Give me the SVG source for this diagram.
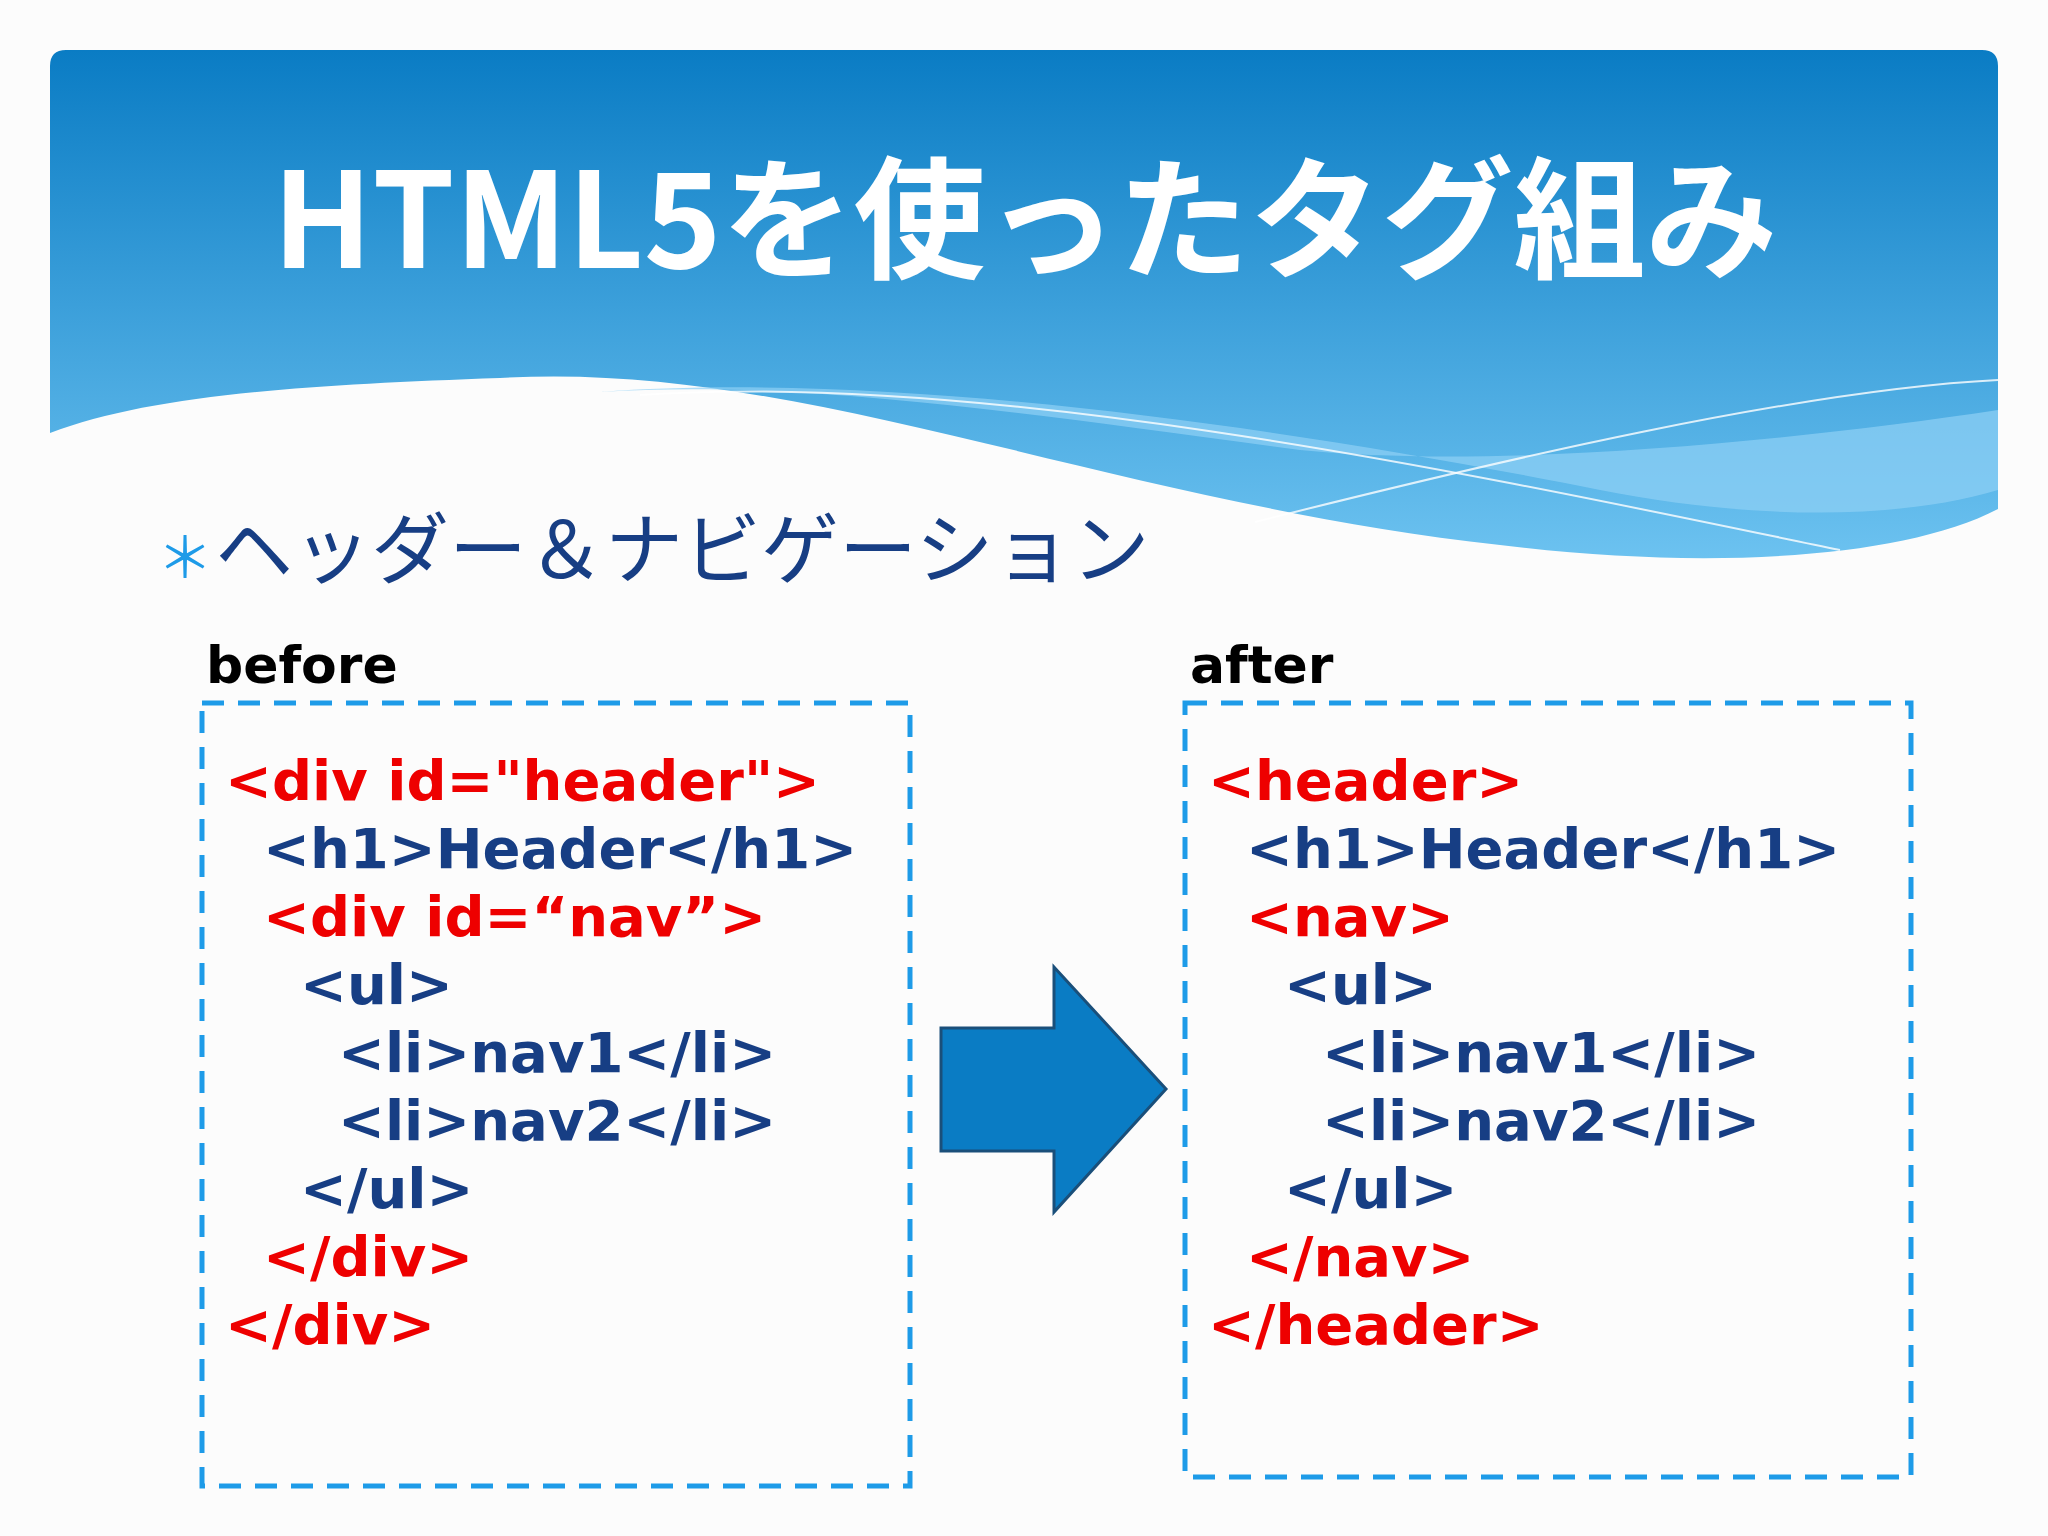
<svg xmlns="http://www.w3.org/2000/svg" width="2048" height="1536" viewBox="0 0 2048 1536">
<defs>
<linearGradient id="hg" x1="0" y1="0" x2="0" y2="1">
<stop offset="0" stop-color="#0a7cc4"/><stop offset="1" stop-color="#6cc2f0"/>
</linearGradient>
<style>
.code{font-family:"DejaVu Sans","Noto Sans CJK JP",sans-serif;font-weight:bold;font-size:56px}
.r{fill:#ee0000}.b{fill:#173e84}
.box{fill:none;stroke:#1e9be8;stroke-width:5;stroke-dasharray:22 14}
.lbl{font-family:"DejaVu Sans",sans-serif;font-weight:bold;font-size:52px;fill:#000}
</style>
</defs>
<rect width="2048" height="1536" fill="#fcfcfc"/>
<g id="header">
<path d="M50,66 Q50,50 66,50 L1982,50 Q1998,50 1998,66 L1998,509 C1900,560 1700,570 1500,545 C1100,500 800,360 500,378 C300,385 150,395 50,433 Z" fill="url(#hg)"/>
<path d="M600,392 C900,370 1300,430 1600,490 C1750,520 1900,520 1998,490 L1998,410 C1800,440 1500,470 1300,450 C1000,410 800,380 600,392 Z" fill="#8fd0f5" opacity="0.7"/>
<path d="M640,395 C1000,370 1500,480 1840,550" fill="none" stroke="#fff" stroke-width="2" opacity="0.8"/>
<path d="M1255,522 C1500,460 1800,390 1998,380" fill="none" stroke="#fff" stroke-width="2" opacity="0.8"/>
<text x="1025" y="268" text-anchor="middle" font-family="'Noto Sans CJK JP',sans-serif" font-weight="bold" font-size="132" fill="#fff">HTML5を使ったタグ組み</text>
</g>
<g id="bullet">
<text x="157" y="578" font-family="'Noto Sans CJK JP',sans-serif" font-size="56" fill="#1e9be8">＊</text>
<text x="215" y="578" font-family="'Noto Sans CJK JP',sans-serif" font-size="78" fill="#173e84">ヘッダー＆ナビゲーション</text>
</g>
<g id="before">
<text class="lbl" x="206" y="683">before</text>
<rect class="box" x="202" y="703" width="708" height="783"/>
<text class="code r" x="225" y="800">&lt;div id="header"&gt;</text>
<text class="code b" x="263" y="868">&lt;h1&gt;Header&lt;/h1&gt;</text>
<text class="code r" x="263" y="936">&lt;div id=“nav”&gt;</text>
<text class="code b" x="300" y="1004">&lt;ul&gt;</text>
<text class="code b" x="338" y="1072">&lt;li&gt;nav1&lt;/li&gt;</text>
<text class="code b" x="338" y="1140">&lt;li&gt;nav2&lt;/li&gt;</text>
<text class="code b" x="300" y="1208">&lt;/ul&gt;</text>
<text class="code r" x="263" y="1276">&lt;/div&gt;</text>
<text class="code r" x="225" y="1344">&lt;/div&gt;</text>
</g>
<g id="arrow">
<path d="M941,1028 L1054,1028 L1054,967 L1166,1089 L1054,1212 L1054,1151 L941,1151 Z" fill="#0a7cc4" stroke="#1a4f7a" stroke-width="3"/>
</g>
<g id="after">
<text class="lbl" x="1190" y="683">after</text>
<rect class="box" x="1185" y="703" width="726" height="774"/>
<text class="code r" x="1208" y="800">&lt;header&gt;</text>
<text class="code b" x="1246" y="868">&lt;h1&gt;Header&lt;/h1&gt;</text>
<text class="code r" x="1246" y="936">&lt;nav&gt;</text>
<text class="code b" x="1284" y="1004">&lt;ul&gt;</text>
<text class="code b" x="1322" y="1072">&lt;li&gt;nav1&lt;/li&gt;</text>
<text class="code b" x="1322" y="1140">&lt;li&gt;nav2&lt;/li&gt;</text>
<text class="code b" x="1284" y="1208">&lt;/ul&gt;</text>
<text class="code r" x="1246" y="1276">&lt;/nav&gt;</text>
<text class="code r" x="1208" y="1344">&lt;/header&gt;</text>
</g>
</svg>
